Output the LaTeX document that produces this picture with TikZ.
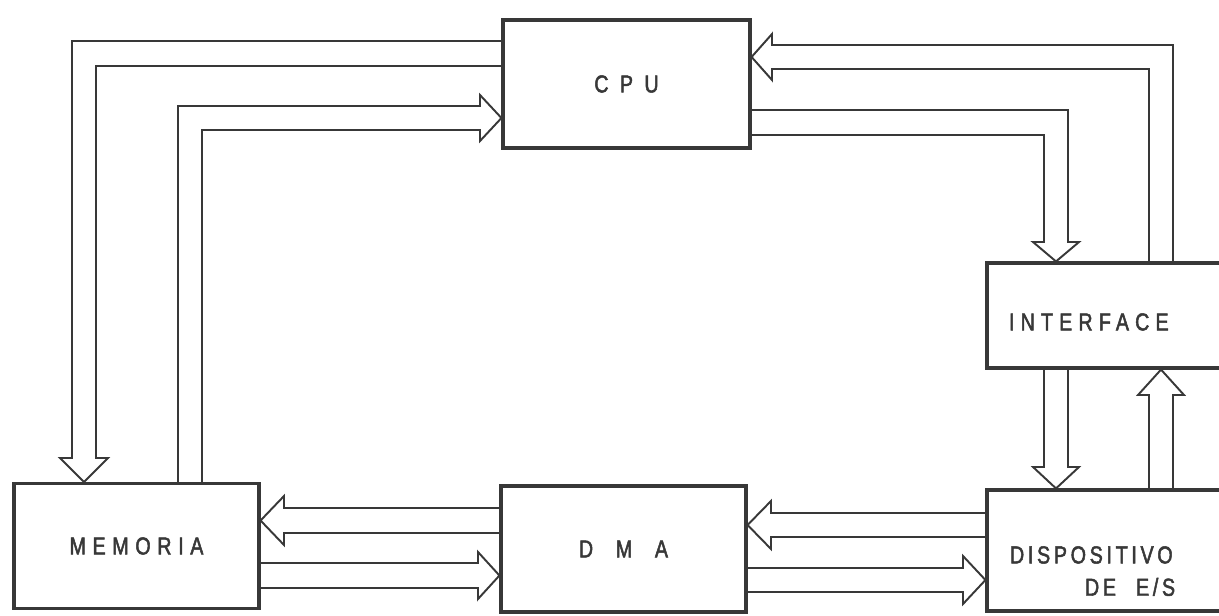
\documentclass[tikz,border=0pt]{standalone}
\usepackage{fontspec}
\usepackage{xcolor}
\newfontfamily\lblfont[FakeStretch=0.8, FakeBold=2]{Liberation Sans}
\definecolor{ink}{gray}{0.22}

\begin{document}
\begin{tikzpicture}[x=0.02cm, y=-0.02cm,
  blk/.style={draw=ink, line width=1.8pt, text=ink},
  lbl/.style={font=\lblfont\fontsize{14}{18.4}\selectfont\addfontfeatures{LetterSpace=#1}},
  bus/.style={draw=ink, line width=1.1pt, line join=miter}]
  \useasboundingbox (0,0) rectangle (1219,615);
  \clip (0,0) rectangle (1219,615);
  % blocks
  \node[blk, lbl=24, minimum width=4.94cm, minimum height=2.56cm] (cpu) at (626.5,84) {C P U};
  \node[blk, lbl=27, minimum width=4.9cm, minimum height=2.5cm] (mem) at (136.5,546) {MEMORIA};
  \node[blk, lbl=70, minimum width=4.9cm, minimum height=2.52cm] (dma) at (623.5,549) {D M A};
  \node[blk, lbl=25, minimum width=5.06cm, minimum height=2.1cm, text width=4.18cm, align=left,
        text height=17pt, text depth=0pt] (intf) at (1113.5,315.5) {INTERFACE};
  \node[blk, lbl=15, minimum width=5.06cm, minimum height=2.42cm, text width=4.14cm, align=left,
        text height=14.7pt, text depth=0pt] (dev) at (1113.5,550.5) {DISPOSITIVO\\\hspace*{1.5cm}DE\hspace{0.4cm}E/S};
  % buses to and from the CPU
  \draw[bus] (cpu.west |- 0,41) -| (72,458) -- (60,458) -- (mem.north -| 84,0) -- (108,458) -- (96,458) |- (cpu.west |- 0,66);
  \draw[bus] (mem.north -| 178,0) |- (480,106) -- (480,95) -- (cpu.west |- 0,118) -- (480,141) -- (480,130) -| (mem.north -| 202,0);
  \draw[bus] (intf.north -| 1173,0) |- (772,45) -- (772,34) -- (cpu.east |- 0,57) -- (772,80) -- (772,69) -| (intf.north -| 1149,0);
  \draw[bus] (cpu.east |- 0,110) -| (1068,242) -- (1079,242) -- (intf.north -| 1056,0) -- (1033,242) -- (1044,242) |- (cpu.east |- 0,135);
  % interface and device
  \draw[bus] (intf.south -| 1044,0) -- (1044,467) -- (1033,467) -- (dev.north -| 1056,0) -- (1079,467) -- (1068,467) -- (intf.south -| 1068,0);
  \draw[bus] (dev.north -| 1149,0) -- (1149,395) -- (1138,395) -- (intf.south -| 1161,0) -- (1184,395) -- (1173,395) -- (dev.north -| 1173,0);
  % DMA paths
  \draw[bus] (dma.west |- 0,508) -- (284,508) -- (284,496) -- (mem.east |- 0,520.5) -- (284,545) -- (284,533) -- (dma.west |- 0,533);
  \draw[bus] (mem.east |- 0,563) -- (478,563) -- (478,552) -- (dma.west |- 0,575.5) -- (478,599) -- (478,588) -- (mem.east |- 0,588);
  \draw[bus] (dev.west |- 0,513) -- (771,513) -- (771,501) -- (dma.east |- 0,525) -- (771,549) -- (771,537) -- (dev.west |- 0,537);
  \draw[bus] (dma.east |- 0,568) -- (963,568) -- (963,556) -- (dev.west |- 0,580) -- (963,604) -- (963,592) -- (dma.east |- 0,592);
\end{tikzpicture}
\end{document}
